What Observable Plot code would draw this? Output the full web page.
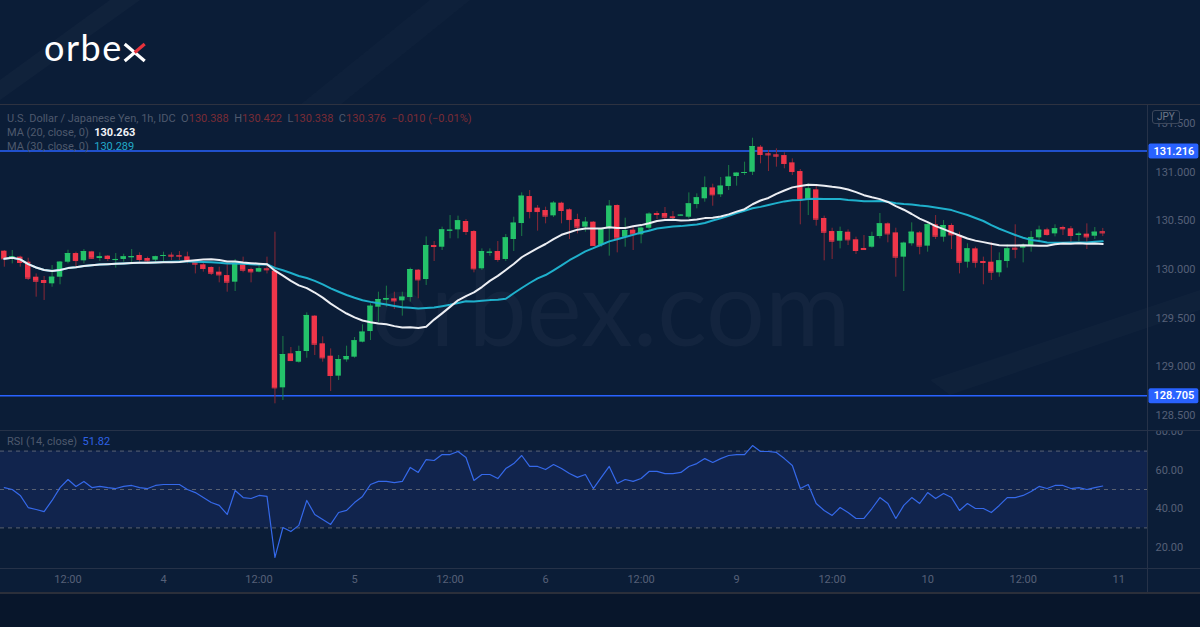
<!DOCTYPE html>
<html><head><meta charset="utf-8">
<script src="https://cdn.jsdelivr.net/npm/d3@7"></script>
<script src="https://cdn.jsdelivr.net/npm/@observablehq/plot@0.6"></script>
<style>
html,body{margin:0;padding:0;background:#0b1d37;}
#wrap{position:relative;width:1200px;height:627px;overflow:hidden;background:#0b1d37;font-family:Roboto,"Noto Sans",sans-serif;}
#deco{position:absolute;left:0;top:0;}
#main{position:absolute;left:0;top:105px;}
#rsi{position:absolute;left:0;top:430px;}
.leg{position:absolute;font-size:11px;color:#4e596d;white-space:pre;line-height:14px;}
.hl{position:absolute;background:#263248;}
#jpy{position:absolute;left:1152px;top:110px;font-size:10px;color:#6f7889;border:1px solid #3b465a;border-radius:3px;padding:0 4px;line-height:12px;background:rgba(11,29,55,0.85);}
</style></head><body>
<div id="wrap">
<svg id="deco" width="1200" height="627">
  <polygon points="0,80 110,0 140,0 0,100" fill="#ffffff" fill-opacity="0.025"/>
  <polygon points="300,105 430,0 470,0 340,105" fill="#ffffff" fill-opacity="0.015"/>
  <polygon points="930,380 1200,290 1200,310 950,395" fill="#ffffff" fill-opacity="0.02"/>
  <polygon points="0,592 1200,592 1200,627 0,627" fill="#08162b"/>
  <text id="logo" x="44" y="61" font-family="Lato, 'Open Sans', sans-serif" font-size="36" fill="#ffffff" letter-spacing="1.5">orbe</text>
  <g id="logox" stroke-width="3.2" stroke-linecap="butt"></g>
</svg>
<div id="main"></div>
<div id="rsi"></div>
<div class="hl" style="left:0;top:104px;width:1200px;height:1px;background:#2e3240"></div>
<div class="hl" style="left:0;top:430px;width:1200px;height:1px;"></div>
<div class="hl" style="left:0;top:568px;width:1200px;height:1px;"></div>
<div class="hl" style="left:0;top:592px;width:1200px;height:2px;background:#2b2f3a"></div>
<div class="hl" style="left:1147px;top:105px;width:1px;height:487px;"></div>
<div id="jpy">JPY</div>
<div class="leg" style="left:7px;top:112px;">U.S. Dollar / Japanese Yen, 1h, IDC  O<span style="color:#7a2c36">130.388</span>  H<span style="color:#7a2c36">130.422</span>  L<span style="color:#7a2c36">130.338</span>  C<span style="color:#7a2c36">130.376</span>  <span style="color:#7a2c36">−0.010 (−0.01%)</span></div>
<div class="leg" style="left:7px;top:126px;">MA (20, close, 0)  <b style="color:#f2f4f8">130.263</b></div>
<div class="leg" style="left:7px;top:140px;">MA (30, close, 0)  <span style="color:#22a8c8">130.289</span></div>
<div class="leg" style="left:7px;top:435px;">RSI (14, close)  <span style="color:#2e62e6">51.82</span></div>
</div>
<script>
const opens = [130.188,130.116,130.127,130.075,129.921,129.887,129.853,129.921,130.075,130.164,130.089,130.181,130.113,130.137,130.092,130.103,130.120,130.144,130.113,130.096,
130.137,130.147,130.144,130.130,130.089,130.048,130.021,129.973,129.938,129.870,130.048,130.000,129.973,130.007,129.983,128.785,129.134,129.048,129.158,129.521,
129.237,129.110,128.905,129.072,129.100,129.254,129.363,129.613,129.685,129.699,129.678,129.712,129.993,129.897,130.246,130.229,130.394,130.407,130.493,130.390,
130.007,130.168,130.185,130.103,130.308,130.472,130.749,130.630,130.606,130.551,130.681,130.613,130.513,130.435,130.486,130.246,130.418,130.657,130.332,130.404,
130.356,130.424,130.575,130.575,130.541,130.551,130.537,130.667,130.726,130.838,130.767,130.852,130.955,130.986,130.999,131.256,131.188,131.177,131.170,131.095,
131.006,130.715,130.818,130.524,130.390,130.291,130.383,130.305,130.216,130.229,130.339,130.469,130.376,130.127,130.264,130.376,130.240,130.459,130.332,130.452,
130.349,130.075,130.212,130.082,130.075,129.966,130.082,130.219,130.219,130.240,130.325,130.407,130.366,130.431,130.418,130.349,130.363,130.342,130.388];
const highs = [130.195,130.195,130.137,130.116,129.955,129.928,130.041,130.082,130.198,130.178,130.205,130.188,130.171,130.144,130.164,130.157,130.205,130.171,130.127,130.137,
130.178,130.171,130.185,130.178,130.096,130.082,130.027,130.024,130.048,130.103,130.127,130.014,130.041,130.127,130.383,129.312,129.199,129.213,129.555,129.528,
129.309,129.185,129.117,129.213,129.302,129.432,129.647,129.767,129.829,129.767,129.767,130.014,130.000,130.335,130.287,130.435,130.554,130.548,130.513,130.400,
130.212,130.212,130.287,130.359,130.537,130.787,130.811,130.657,130.640,130.698,130.691,130.623,130.568,130.534,130.493,130.424,130.708,130.664,130.527,130.431,
130.445,130.582,130.595,130.637,130.595,130.565,130.787,130.777,130.951,130.876,130.945,131.068,130.993,131.102,131.348,131.273,131.222,131.239,131.198,131.136,
131.027,130.880,130.856,130.548,130.424,130.435,130.407,130.332,130.349,130.383,130.575,130.479,130.424,130.281,130.479,130.390,130.469,130.554,130.503,130.469,
130.383,130.264,130.229,130.127,130.274,130.171,130.253,130.459,130.264,130.390,130.445,130.424,130.459,130.445,130.441,130.383,130.469,130.431,130.422];
const lows = [130.024,130.058,130.024,129.887,129.716,129.682,129.818,129.843,130.058,130.024,130.058,130.103,130.082,130.082,130.014,130.075,130.048,130.068,130.068,130.068,
130.082,130.092,130.092,130.058,129.955,129.973,129.938,129.863,129.767,129.774,129.966,129.863,129.966,129.955,128.621,128.655,129.055,129.038,129.089,129.117,
129.048,128.747,128.860,129.048,129.089,129.247,129.271,129.459,129.613,129.589,129.521,129.665,129.699,129.836,130.082,130.195,130.315,130.315,130.349,129.966,
129.990,130.137,130.075,130.082,130.185,130.339,130.520,130.394,130.469,130.534,130.469,130.308,130.366,130.383,130.240,130.229,130.137,130.171,130.229,130.195,
130.264,130.400,130.513,130.493,130.493,130.548,130.520,130.623,130.691,130.650,130.739,130.811,130.856,130.965,130.965,131.085,131.006,131.051,131.034,130.965,
130.459,130.554,130.445,130.089,130.103,130.212,130.246,130.154,130.195,130.219,130.315,130.274,129.921,129.774,130.240,130.151,130.178,130.308,130.281,130.205,
129.955,130.014,130.014,129.843,129.887,129.921,130.014,130.110,130.068,130.178,130.274,130.342,130.335,130.349,130.253,130.287,130.205,130.308,130.338];
const closes = [130.110,130.130,130.072,129.911,129.880,129.867,129.921,130.075,130.164,130.092,130.185,130.116,130.130,130.113,130.103,130.130,130.133,130.103,130.089,130.130,
130.144,130.137,130.137,130.082,130.055,130.010,129.962,129.945,129.870,130.065,129.993,129.976,130.007,129.997,128.785,129.127,129.065,129.158,129.528,129.233,
129.093,128.912,129.076,129.106,129.268,129.357,129.623,129.692,129.702,129.678,129.716,130.000,129.894,130.246,130.236,130.407,130.404,130.500,130.390,130.007,
130.185,130.178,130.103,130.325,130.476,130.753,130.595,130.595,130.548,130.681,130.606,130.513,130.435,130.486,130.246,130.418,130.650,130.322,130.400,130.363,
130.424,130.568,130.565,130.537,130.534,130.558,130.674,130.736,130.838,130.767,130.856,130.948,130.989,130.996,131.263,131.181,131.177,131.164,131.088,131.006,
130.715,130.828,130.517,130.383,130.291,130.390,130.305,130.195,130.205,130.339,130.469,130.366,130.127,130.270,130.383,130.240,130.459,130.342,130.452,130.356,
130.075,130.212,130.075,130.072,129.973,130.089,130.212,130.209,130.246,130.329,130.404,130.359,130.418,130.418,130.349,130.363,130.335,130.383,130.376];
const rsiValues = [51.0,50.0,46.9,40.6,39.6,38.5,44.3,51.0,55.2,51.6,54.2,51.0,51.6,51.0,50.5,51.6,52.1,51.0,50.5,52.1,
52.6,52.6,52.6,50.0,48.4,45.8,43.2,41.7,37.0,49.5,45.8,45.3,46.9,46.4,14.6,30.2,28.1,31.3,44.3,37.0,
34.4,31.8,38.0,39.1,43.2,46.4,52.6,54.2,54.2,53.6,54.2,61.5,58.9,65.6,65.1,68.2,68.2,69.8,66.7,54.7,
57.8,57.8,55.7,60.9,63.5,67.7,62.0,62.0,60.4,63.0,60.9,58.3,56.3,57.8,50.5,56.3,62.0,53.1,55.2,54.2,
55.7,59.4,59.4,58.3,58.3,58.9,62.0,63.5,66.1,64.1,66.1,67.7,68.2,68.2,72.9,69.8,69.8,69.3,66.1,62.5,
50.5,52.6,42.7,39.1,36.5,40.6,38.0,34.9,34.9,40.1,45.8,42.7,34.9,41.7,45.8,42.7,48.4,45.3,47.9,45.8,
39.1,42.7,40.1,40.1,38.0,41.7,45.8,45.8,46.9,49.0,51.6,50.5,52.1,52.1,50.5,51.0,50.0,51.0,51.82];
const firstBarIndex = -20;
const levels = [131.216, 128.705];
const priceTicks = [128.5, 129, 129.5, 130, 130.5, 131, 131.5];
const rsiTicks = [20, 40, 60, 80];
const rsiGuides = [70, 50, 30];
const timeTickIndex = [-12, 0, 12, 24, 36, 48, 60, 72, 84, 96, 108, 120];
const timeTickLabels = ["12:00","4","12:00","5","12:00","6","12:00","9","12:00","10","12:00","11"];

const bars = closes.map((c, k) => ({i: firstBarIndex + k, open: opens[k], high: highs[k], low: lows[k], close: c, rsi: rsiValues[k]}));
const up = d => d.close >= d.open;
const xDomain = [-20.48, 123.62];
const font = "Roboto, 'Noto Sans', sans-serif";

const main = Plot.plot({
  width: 1200, height: 325, marginLeft: 0, marginRight: 53, marginTop: 0, marginBottom: 0,
  style: {background: "transparent", fontFamily: font, fontSize: "11px", color: "#5a6479"},
  x: {domain: xDomain, axis: null},
  y: {domain: [128.347, 131.684], axis: null},
  marks: [
    Plot.text(["orbex.com"], {frameAnchor: "middle", dx: 37, dy: 45, fontSize: 104, fill: "#ffffff", fillOpacity: 0.035, fontFamily: "Lato, sans-serif"}),
    Plot.ruleY(levels, {stroke: "#2962ff", strokeWidth: 1.5}),
    Plot.ruleX(bars, {x: "i", y1: "low", y2: "high", stroke: d => up(d) ? "#1b7a47" : "#8a2837", strokeWidth: 1}),
    Plot.rect(bars, {x1: d => d.i - 0.34, x2: d => d.i + 0.34, y1: "open", y2: "close", fill: d => up(d) ? "#24c26a" : "#f0364a"}),
    Plot.ruleY(bars, {x1: d => d.i - 0.34, x2: d => d.i + 0.34, y: "close", stroke: d => up(d) ? "#24c26a" : "#f0364a"}),
    Plot.lineY(bars, Plot.windowY({k: 30, anchor: "end", reduce: "mean"}, {x: "i", y: "close", stroke: "#1fb0cc", strokeWidth: 2})),
    Plot.lineY(bars, Plot.windowY({k: 20, anchor: "end", reduce: "mean"}, {x: "i", y: "close", stroke: "#eceef3", strokeWidth: 2})),
    Plot.axisY(priceTicks, {anchor: "right", label: null, tickSize: 0, tickPadding: 8, textAnchor: "start", tickFormat: d => d.toFixed(3), fill: "#566078"}),
    Plot.text(levels, {y: d => d, text: d => d.toFixed(3), frameAnchor: "right", textAnchor: "start", dx: 6, fill: "#ffffff", fontWeight: 600, className: "lvl"})
  ]
});
document.getElementById("main").appendChild(main);
d3.select(main).selectAll(".lvl text").each(function() {
  const b = this.getBBox();
  d3.select(this.parentNode).insert("rect", () => this)
    .attr("transform", this.getAttribute("transform"))
    .attr("x", b.x - 5).attr("y", b.y - 1).attr("width", b.width + 9).attr("height", b.height + 2)
    .attr("rx", 2).attr("fill", "#2962ff");
});

const rsi = Plot.plot({
  width: 1200, height: 162, marginLeft: 0, marginRight: 53, marginTop: 0, marginBottom: 24,
  style: {background: "transparent", fontFamily: font, fontSize: "11px", color: "#5a6479"},
  x: {domain: xDomain, axis: null},
  y: {domain: [8.85, 80.73], axis: null},
  marks: [
    Plot.rect([0], {y1: 30, y2: 70, fill: "#2a3f9e", fillOpacity: 0.22}),
    Plot.ruleY(rsiGuides, {stroke: "#5a6272", strokeDasharray: "4,4", strokeWidth: 1}),
    Plot.lineY(bars, {x: "i", y: "rsi", stroke: "#3569ea", strokeWidth: 1.2}),
    Plot.axisY(rsiTicks, {anchor: "right", label: null, tickSize: 0, tickPadding: 8, textAnchor: "start", tickFormat: d => d.toFixed(2), fill: "#566078"}),
    Plot.axisX(timeTickIndex, {anchor: "bottom", label: null, tickSize: 0, tickPadding: 7, tickFormat: d => timeTickLabels[timeTickIndex.indexOf(d)], fill: "#566078"})
  ]
});
document.getElementById("rsi").appendChild(rsi);

// logo "x": white diagonal, white lower-left arm, red upper-right arm
const lb = document.getElementById("logo").getBBox();
const x0 = lb.x + lb.width + 2, x1 = x0 + 20, yt = 44, yb = 61, xm = (x0 + x1) / 2, ym = (yt + yb) / 2;
const g = d3.select("#logox");
g.append("line").attr("x1", x0).attr("y1", yt).attr("x2", x1).attr("y2", yb).attr("stroke", "#ffffff");
g.append("line").attr("x1", x0).attr("y1", yb).attr("x2", xm).attr("y2", ym).attr("stroke", "#ffffff");
g.append("line").attr("x1", xm).attr("y1", ym).attr("x2", x1).attr("y2", yt).attr("stroke", "#e8323c");
</script>
</body></html>
